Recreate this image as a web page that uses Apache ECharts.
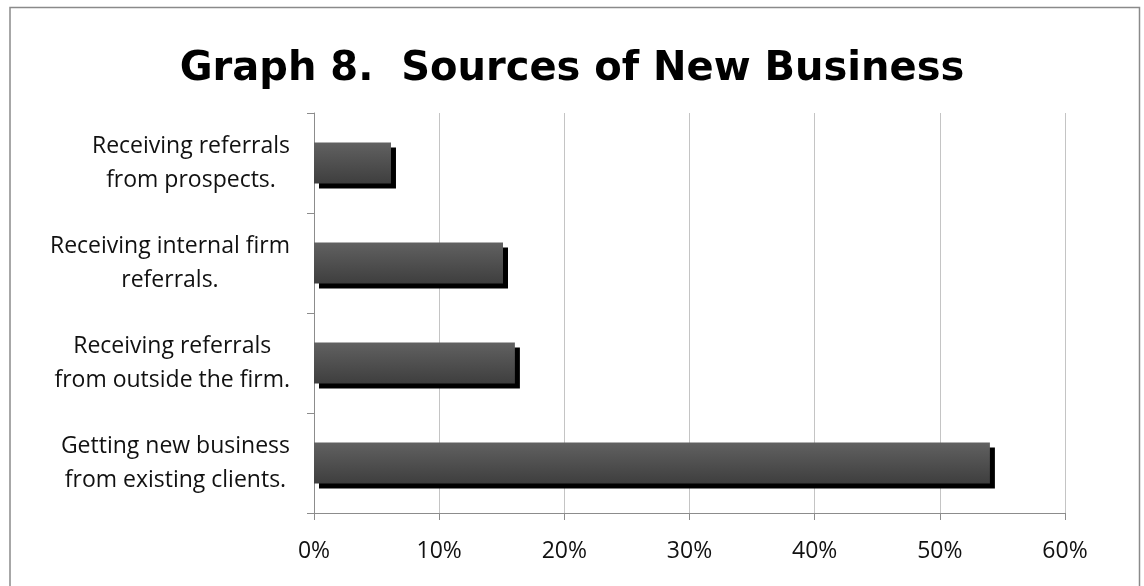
<!DOCTYPE html>
<html>
<head>
<meta charset="utf-8">
<script src="https://cdn.jsdelivr.net/npm/echarts@6/dist/echarts.min.js"></script>
<style>
html,body{margin:0;padding:0;background:#fff;}
#chart{width:1144px;height:586px;}
</style>
</head>
<body>
<div id="chart"></div>
<script>
const titleText = 'Graph 8.  Sources of New Business';
const categories = [
  'Receiving referrals\nfrom prospects.',
  'Receiving internal firm\nreferrals.',
  'Receiving referrals\nfrom outside the firm.',
  'Getting new business\nfrom existing clients.'
];
const values = [6.15, 15.1, 16.05, 54.0];
const xTicks = [0, 10, 20, 30, 40, 50, 60];

const FONT = '"Open Sans", sans-serif';
const chart = echarts.init(document.getElementById('chart'));
chart.setOption({
  animation: false,
  backgroundColor: '#fff',
  title: {
    text: titleText,
    left: 'center',
    top: 45,
    textStyle: { fontFamily: '"DejaVu Sans", sans-serif', fontSize: 40, fontWeight: 'bold', color: '#000' }
  },
  graphic: [{
    type: 'rect',
    shape: { x: 10, y: 7.5, width: 1129.5, height: 600 },
    style: { fill: 'none', stroke: '#8a8a8a', lineWidth: 1.5 },
    silent: true
  }],
  grid: { left: 314, right: 79, top: 113, bottom: 73, containLabel: false },
  xAxis: {
    type: 'value',
    min: xTicks[0],
    max: xTicks[xTicks.length - 1],
    interval: 10,
    axisLine: { show: true, lineStyle: { color: '#8c8c8c', width: 1 } },
    axisTick: { show: true, length: 7, lineStyle: { color: '#8c8c8c' } },
    splitLine: { show: true, lineStyle: { color: '#c4c4c4', width: 1 } },
    axisLabel: {
      formatter: v => v + '%',
      margin: 27,
      fontFamily: FONT, fontSize: 23, color: '#111'
    }
  },
  yAxis: {
    type: 'category',
    inverse: true,
    data: categories,
    axisLine: { show: true, lineStyle: { color: '#8c8c8c', width: 1 } },
    axisTick: { show: true, length: 7, alignWithLabel: false, lineStyle: { color: '#8c8c8c' } },
    axisLabel: {
      margin: 24,
      align: 'right',
      formatter: v => v.split('\n').map(s => '{c|' + s + '}').join('\n'),
      rich: {
        c: { align: 'center', fontFamily: FONT, fontSize: 23, lineHeight: 34, color: '#111' }
      }
    }
  },
  series: [{
    type: 'bar',
    data: values,
    barWidth: 41,
    itemStyle: {
      color: new echarts.graphic.LinearGradient(0, 0, 0, 1, [
        { offset: 0, color: '#616161' },
        { offset: 1, color: '#3e3e3e' }
      ]),
      shadowColor: '#000',
      shadowBlur: 0,
      shadowOffsetX: 5,
      shadowOffsetY: 5
    }
  }]
});
</script>
</body>
</html>
